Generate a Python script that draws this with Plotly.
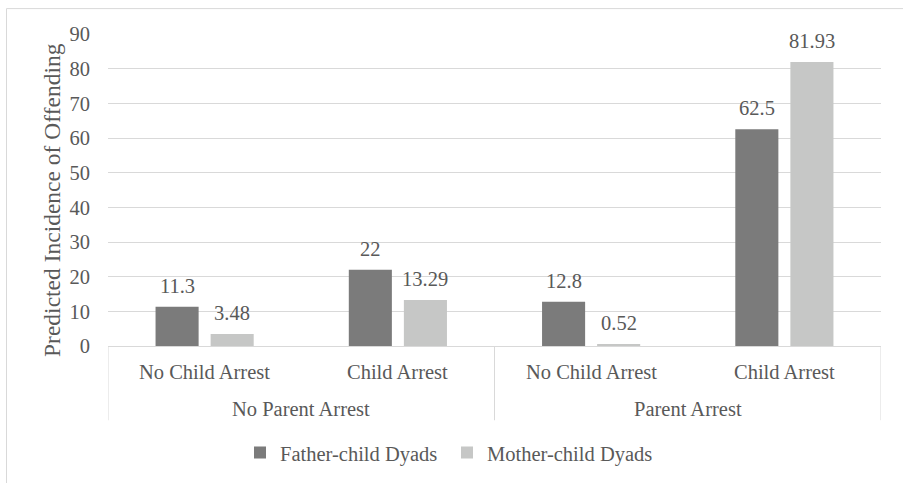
import plotly.graph_objects as go

# ---- data ----
groups = ["No Parent Arrest", "Parent Arrest"]
categories = ["No Child Arrest", "Child Arrest", "No Child Arrest", "Child Arrest"]
category_group = [0, 0, 1, 1]
father = [11.3, 22, 12.8, 62.5]
mother = [3.48, 13.29, 0.52, 81.93]
series_names = ["Father-child Dyads", "Mother-child Dyads"]
y_ticks = [0, 10, 20, 30, 40, 50, 60, 70, 80, 90]
y_title = "Predicted Incidence of Offending"

# ---- style ----
W, H = 903, 483
L, R, T, B = 108, 22, 34, 136
PW, PH = W - L - R, H - T - B
FONT = "Liberation Serif"
TXT = "#595959"
GRID = "#d9d9d9"
C_FATHER = "#7b7b7b"
C_MOTHER = "#c6c7c6"
FS = 20.5
BARGAP = 0.43
BARGROUPGAP = 0.218

xs = list(range(len(categories)))

def px_x(p):
    return (p - L) / PW

def px_y(p):
    return (H - B - p) / PH

fig = go.Figure()
fig.add_trace(go.Bar(x=xs, y=father, name=series_names[0], marker=dict(color=C_FATHER, line=dict(width=0))))
fig.add_trace(go.Bar(x=xs, y=mother, name=series_names[1], marker=dict(color=C_MOTHER, line=dict(width=0))))

annotations = []
slot = (1 - BARGAP) / 2
for vals, off in ((father, -slot / 2), (mother, slot / 2)):
    for x, v in zip(xs, vals):
        annotations.append(dict(x=x + off, y=v, xref="x", yref="y", text=f"{v:g}", showarrow=False,
                                yanchor="middle", yshift=21, font=dict(family=FONT, size=FS, color=TXT)))

# category labels (level 1)
for x, c in zip(xs, categories):
    annotations.append(dict(x=x, y=0, xref="x", yref="paper", text=c, showarrow=False,
                            yanchor="middle", yshift=-26, font=dict(family=FONT, size=FS, color=TXT)))
# group labels (level 2)
for gi, g in enumerate(groups):
    members = [x for x, cg in zip(xs, category_group) if cg == gi]
    annotations.append(dict(x=sum(members) / len(members), y=0, xref="x", yref="paper", text=g, showarrow=False,
                            yanchor="middle", yshift=-62.5, font=dict(family=FONT, size=FS, color=TXT)))
# y-axis title
annotations.append(dict(x=px_x(52), y=px_y(200.5), xref="paper", yref="paper", text=y_title, textangle=-90,
                        showarrow=False, xanchor="center", yanchor="middle",
                        font=dict(family=FONT, size=23.5, color=TXT)))

shapes = []
# category axis dividers
bounds = [-0.5] + [x + 0.5 for x in xs if x + 1 < len(xs) and category_group[x + 1] != category_group[x]] + [len(xs) - 0.5]
for bx in bounds:
    shapes.append(dict(type="line", xref="x", yref="paper", x0=bx, x1=bx, y0=px_y(421.5), y1=0,
                       line=dict(color=GRID, width=1)))
# outer chart border
shapes.append(dict(type="rect", xref="paper", yref="paper", x0=px_x(6.5), x1=px_x(915), y0=px_y(495), y1=px_y(8.5),
                   line=dict(color=GRID, width=1), fillcolor="rgba(0,0,0,0)", layer="below"))

fig.update_layout(
    width=W, height=H,
    margin=dict(l=L, r=R, t=T, b=B),
    paper_bgcolor="white", plot_bgcolor="white",
    barmode="group", bargap=BARGAP, bargroupgap=BARGROUPGAP,
    font=dict(family=FONT, size=FS, color=TXT),
    showlegend=True,
    legend=dict(orientation="h", x=px_x(240), xanchor="left", y=px_y(452.7), yanchor="middle",
                font=dict(family=FONT, size=FS, color=TXT), bgcolor="rgba(0,0,0,0)",
                entrywidth=162, entrywidthmode="pixels", itemwidth=30),
    annotations=annotations,
    shapes=shapes,
    xaxis=dict(range=[-0.5, len(xs) - 0.5], showticklabels=False, showgrid=False, zeroline=False,
               showline=True, linecolor=GRID, linewidth=1, ticks=""),
    yaxis=dict(range=[0, 90], tickvals=y_ticks, showgrid=True, gridcolor=GRID, gridwidth=1,
               zeroline=False, showline=False, ticks="", ticklabelstandoff=17,
               tickfont=dict(family=FONT, size=FS, color=TXT)),
)

fig.write_html("out.html")
